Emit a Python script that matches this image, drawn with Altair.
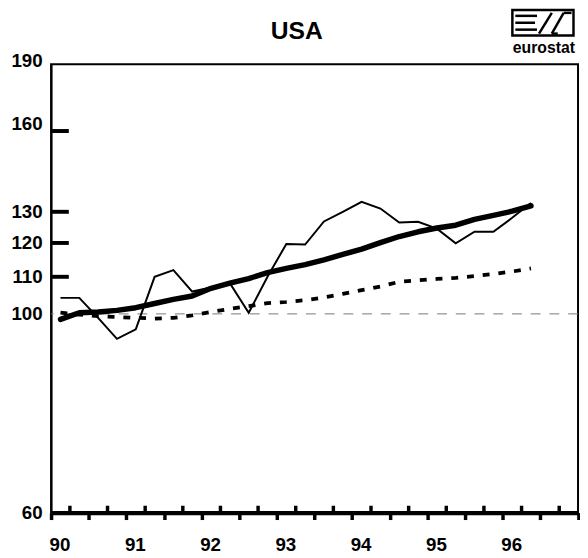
import altair as alt
import pandas as pd

# ---- data ----
quarters = [90.125, 90.375, 90.625, 90.875, 91.125, 91.375, 91.625, 91.875,
            92.125, 92.375, 92.625, 92.875, 93.125, 93.375, 93.625, 93.875,
            94.125, 94.375, 94.625, 94.875, 95.125, 95.375, 95.625, 95.875,
            96.125, 96.375]
thin_series = [104.2, 104.2, 99.0, 93.8, 96.1, 110.0, 111.9, 105.9,
               107.0, 108.2, 100.3, 110.0, 119.7, 119.5, 126.8, 130.0,
               133.4, 131.1, 126.5, 126.7, 124.5, 119.9, 123.5, 123.5,
               128.0, 133.0]
thick_series = [98.6, 100.3, 100.5, 100.9, 101.6, 102.7, 103.8, 104.7,
                106.8, 108.2, 109.5, 111.2, 112.4, 113.5, 114.9, 116.5,
                118.1, 120.1, 122.0, 123.5, 124.7, 125.6, 127.5, 128.8,
                130.2, 132.0]
dotted_series = [100.3, 99.8, 99.4, 99.2, 99.0, 98.8, 99.0, 99.6,
                 100.5, 101.3, 102.0, 102.8, 103.1, 103.6, 104.3, 105.3,
                 106.3, 107.3, 108.6, 109.0, 109.4, 109.7, 110.2, 110.8,
                 111.5, 112.4]
reference_level = [100]
outer_x_ticks = [90, 90.5, 91, 91.5, 92, 92.5, 93, 93.5, 94, 94.5, 95, 95.5,
                 96, 96.5, 97]
inner_x_ticks = [90.25, 90.75, 91.25, 91.75, 92.25, 92.75, 93.25, 93.75,
                 94.25, 94.75, 95.25, 95.75, 96.25, 96.75]
y_labels = [60, 100, 110, 120, 130, 160, 190]
y_inner_ticks = [110, 120, 130, 160]
title_text = ["USA"]
logo_text = ["eurostat"]

W, H = 534.6, 455
FONT = "Liberation Sans"

df = pd.DataFrame({"t": quarters, "thin": thin_series,
                   "thick": thick_series, "dotted": dotted_series})

xscale = alt.Scale(domain=[90, 97], nice=False, zero=False)
yscale = alt.Scale(type="log", domain=[60, 190], nice=False)

x_axis = alt.Axis(
    values=outer_x_ticks,
    labelExpr="(datum.value % 1 == 0 && datum.value < 97) ? format(datum.value, 'd') : ''",
    labelAlign="left", labelOffset=-2, labelFont=FONT, labelFontSize=19,
    labelFontWeight="bold", labelColor="black", labelPadding=16,
    tickSize=7, tickWidth=3.5, tickColor="black",
    domainColor="black", domainWidth=4.5, grid=False, title=None,
    labelFlush=False, labelOverlap=False, labelBound=False,
)
y_axis = alt.Axis(
    values=y_labels, format="d", ticks=False,
    domainColor="black", domainWidth=2, grid=False, title=None,
    labelFont=FONT, labelFontSize=19, labelFontWeight="bold",
    labelColor="black", labelPadding=9, labelOverlap=False, labelFlush=False,
    labelOffset={"condition": [{"test": "datum.value == 160", "value": -8},
                               {"test": "datum.value == 190", "value": -4}],
                 "value": 0},
)

ref = alt.Chart(pd.DataFrame({"v": reference_level})).mark_rule(
    color="#777777", strokeWidth=1, strokeDash=[10, 9]
).encode(y=alt.Y("v:Q", scale=yscale, axis=y_axis))

dotted = alt.Chart(df).mark_line(
    color="black", strokeWidth=3.8, strokeDash=[7, 9]
).encode(x=alt.X("t:Q", scale=xscale, axis=x_axis),
         y=alt.Y("dotted:Q", scale=yscale, axis=y_axis))

thin = alt.Chart(df).mark_line(color="black", strokeWidth=2).encode(
    x=alt.X("t:Q", scale=xscale, axis=x_axis),
    y=alt.Y("thin:Q", scale=yscale, axis=y_axis))

thick = alt.Chart(df).mark_line(color="black", strokeWidth=5.5,
                                strokeCap="round", strokeJoin="round").encode(
    x=alt.X("t:Q", scale=xscale, axis=x_axis),
    y=alt.Y("thick:Q", scale=yscale, axis=y_axis))

xin = alt.Chart(pd.DataFrame({"t": inner_x_ticks})).mark_rule(
    color="black", strokeWidth=3.5
).encode(x=alt.X("t:Q", scale=xscale, axis=x_axis),
         y=alt.value(H), y2=alt.value(H - 7))

yin = alt.Chart(pd.DataFrame({"v": y_inner_ticks})).mark_rule(
    color="black", strokeWidth=4
).encode(y=alt.Y("v:Q", scale=yscale, axis=y_axis),
         x=alt.value(1), x2=alt.value(18))

title = alt.Chart(pd.DataFrame({"s": title_text})).mark_text(
    font=FONT, fontSize=25, fontWeight="bold", color="black",
    align="center", baseline="alphabetic"
).encode(text="s:N", x=alt.value(249.3), y=alt.value(-26))

# ---- eurostat logo (decoration) ----
one = pd.DataFrame({"s": logo_text})
logo_box = alt.Chart(one).mark_rect(fill="white", stroke="black", strokeWidth=2.5).encode(
    x=alt.value(468), x2=alt.value(530), y=alt.value(-55), y2=alt.value(-29))


def seg(x1, y1, x2, y2, w=2.5):
    return alt.Chart(one).mark_rule(color="black", strokeWidth=w).encode(
        x=alt.value(x1), y=alt.value(y1), x2=alt.value(x2), y2=alt.value(y2))


logo_parts = [
    seg(471, -49, 493, -49),
    seg(471, -42, 491, -42),
    seg(471, -35, 493, -35),
    seg(495, -31, 508, -52),
    seg(508, -31, 520, -52),
    seg(520, -52, 528, -52),
    seg(508, -31, 514, -31),
]
logo_label = alt.Chart(one).mark_text(
    font=FONT, fontSize=16, fontWeight="bold", color="black",
    align="center", baseline="alphabetic"
).encode(text="s:N", x=alt.value(500), y=alt.value(-11))

chart = alt.layer(
    ref, dotted, thin, thick, xin, yin, title, logo_box, *logo_parts, logo_label
).properties(
    width=W, height=H,
    autosize=alt.AutoSizeParams(type="none"),
    padding={"left": 43.7, "top": 53, "right": 2, "bottom": 38},
    background="white",
).configure_view(stroke="black", strokeWidth=2)

chart.save("out.html", embed_options={"renderer": "svg", "actions": False})
